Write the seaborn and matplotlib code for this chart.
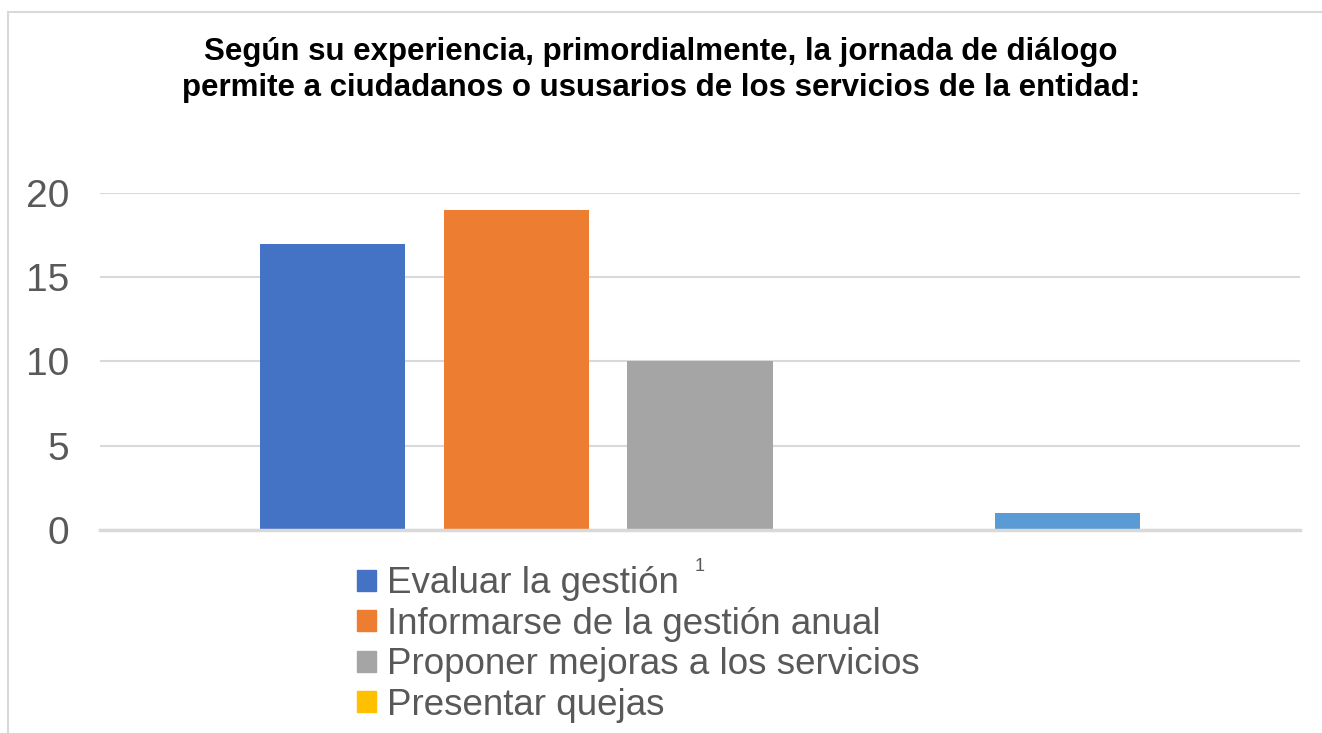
import matplotlib
matplotlib.use('Agg')
import matplotlib.pyplot as plt
import seaborn as sns
import pandas as pd
from matplotlib.patches import Rectangle

# data
categoria = ['1']
series = [
    'Evaluar la gestión',
    'Informarse de la gestión anual',
    'Proponer mejoras a los servicios',
    'Presentar quejas',
    'Otro',
]
valores = [17, 19, 10, 0, 1]
colores = ['#4472C4', '#ED7D31', '#A5A5A5', '#FFC000', '#5B9BD5']

titulo = ('Según su experiencia, primordialmente, la jornada de diálogo\n'
          'permite a ciudadanos o ususarios de los servicios de la entidad:')

df = pd.DataFrame({
    'categoria': categoria * len(series),
    'serie': series,
    'valor': valores,
})

sns.set_style('white')
plt.rcParams['font.family'] = ['Liberation Sans', 'DejaVu Sans']

fig = plt.figure(figsize=(13.22, 7.33), dpi=100)
ax = fig.add_axes([100 / 1322, 0.277, 1200 / 1322, 0.4597])

sns.barplot(
    data=df, x='categoria', y='valor', hue='serie',
    hue_order=series, palette=colores, saturation=1,
    width=0.765, gap=0.21, linewidth=0, ax=ax, legend=False,
)

ax.set_xlim(-0.5, 0.5)
ax.set_ylim(0, 20)
ax.set_yticks([0, 5, 10, 15, 20])
ax.yaxis.grid(True, color='#D9D9D9', linewidth=1.5)
ax.set_axisbelow(True)
for s in ['top', 'right', 'left']:
    ax.spines[s].set_visible(False)
ax.spines['bottom'].set_color('#D9D9D9')
ax.spines['bottom'].set_linewidth(2.5)
ax.tick_params(axis='y', labelsize=28, labelcolor='#595959', length=0, pad=22)
ax.tick_params(axis='x', labelsize=13, labelcolor='#595959', length=0, pad=20)
ax.set_xlabel('')
ax.set_ylabel('')

# legend: only the first four series are shown
handles = [Rectangle((0, 0), 1, 1, color=c) for c in colores[:4]]
leg = fig.legend(
    handles, series[:4], loc='upper left',
    bbox_to_anchor=(339 / 1322, 1 - 548 / 733),
    frameon=False, fontsize=26.5, handlelength=0.5, handleheight=0.5,
    handletextpad=0.3, labelspacing=0.15, borderpad=0,
)
for t in leg.get_texts():
    t.set_color('#595959')

fig.text(0.5, 1 - 70 / 733, titulo, ha='center', va='center',
         fontsize=22.5, fontweight='bold', color='black', linespacing=1.3)

# chart border
fig.patches.append(Rectangle((8 / 1322, -0.1), 1.2, 1 - 12 / 733 + 0.1,
                             transform=fig.transFigure, fill=False,
                             edgecolor='#D9D9D9', linewidth=1.5))

fig.savefig('out.png', dpi=100)
